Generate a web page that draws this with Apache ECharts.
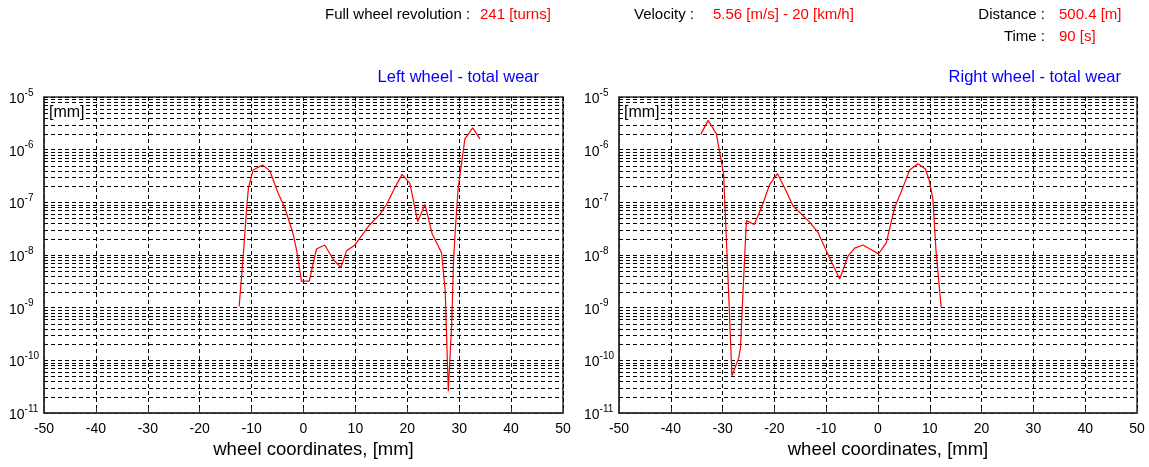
<!DOCTYPE html>
<html>
<head>
<meta charset="utf-8">
<script src="https://cdn.jsdelivr.net/npm/echarts@6/dist/echarts.min.js"></script>
<style>
  html, body { margin: 0; padding: 0; background: #fff; }
  #main { width: 1149px; height: 467px; }
</style>
</head>
<body>
<div id="main"></div>
<script>
// left wheel wear curve
const leftX = [-12.4, -11.6, -10.9, -10.6, -9.7, -7.9, -6.5, -4.9, -3.6, -2.0, -1.3, -0.4, 1.1, 2.5, 4.1, 5.7, 7.2, 8.3, 9.9, 12.8,
  14.7, 16.0, 17.6, 19.0, 20.5, 22.0, 23.4, 24.8, 26.6, 27.3, 27.9, 28.55, 28.9, 29.2, 29.8, 31.1, 32.6, 34.0];
const leftY = [1.05e-9, 1.0e-8, 9.1e-8, 1.9e-7, 4.1e-7, 5.1e-7, 4.0e-7, 1.5e-7, 7.9e-8, 2.5e-8, 1.2e-8, 3.2e-9, 3.2e-9, 1.3e-8, 1.55e-8, 8.3e-9, 5.8e-9, 1.2e-8, 1.55e-8, 3.8e-8,
  5.9e-8, 9.1e-8, 1.9e-7, 3.4e-7, 2.3e-7, 4.3e-8, 9.1e-8, 2.5e-8, 1.1e-8, 2.1e-9, 2.6e-11, 4.9e-10, 7.2e-9, 2.5e-8, 1.9e-7, 1.6e-6, 2.6e-6, 1.6e-6];

// right wheel wear curve
const rightX = [-34.2, -32.8, -31.2, -29.8, -28.75, -28.2, -26.9, -26.55, -26.05, -25.4, -23.9, -22.5, -20.9, -19.4, -17.8, -16.4, -13.2, -11.6,
  -9.7, -7.4, -5.8, -4.5, -2.9, -1.3, 0.1, 1.6, 3.2, 4.8, 6.1, 7.7, 9.15, 9.9, 10.6, 11.2, 12.2];
const rightY = [1.95e-6, 3.6e-6, 2.0e-6, 3.4e-7, 1.2e-9, 5.1e-11, 1.1e-10, 1.7e-10, 2.1e-9, 4.5e-8, 3.8e-8, 7.9e-8, 2.2e-7, 3.5e-7, 1.7e-7, 8.5e-8, 4.2e-8, 2.7e-8,
  1.05e-8, 3.5e-9, 9.5e-9, 1.35e-8, 1.55e-8, 1.26e-8, 1.05e-8, 1.7e-8, 7.9e-8, 1.9e-7, 4.1e-7, 5.4e-7, 4.3e-7, 2.6e-7, 1.15e-7, 1.2e-8, 1.0e-9];

const xTicks = [-50, 50];
const decades = [-11, -10, -9, -8, -7, -6];
const mantissas = [2, 3, 4, 5, 6, 7, 8, 9];

const FONT = 'Liberation Sans, Arial, sans-serif';
const dash = [4, 3];

// minor log grid values (2..9 of each decade)
let minorVals = [];
decades.forEach(d => {
  mantissas.forEach(m => {
    minorVals.push(m * Math.pow(10, d));
  });
});

function pairs(xs, ys) {
  return xs.map((x, i) => [x, ys[i]]);
}

function makeX(idx) {
  return {
    type: 'value', gridIndex: idx, min: xTicks[0], max: xTicks[1], interval: 10,
    name: 'wheel coordinates, [mm]', nameLocation: 'middle', nameGap: 26,
    nameTextStyle: { fontFamily: FONT, fontSize: 18.5, color: '#000', padding: [0, 0, 0, 20] },
    axisLine: { show: true, onZero: false, lineStyle: { color: '#333', width: 1.5 } },
    axisTick: { show: true, inside: true, length: 5, lineStyle: { color: '#333' } },
    axisLabel: { fontFamily: FONT, fontSize: 14, color: '#000', margin: 9 },
    splitLine: { show: true, lineStyle: { color: '#000', type: dash, width: 1 } }
  };
}

function makeY(idx) {
  return {
    type: 'log', logBase: 10, gridIndex: idx, min: 1e-11, max: 1e-5,
    axisLine: { show: true, onZero: false, lineStyle: { color: '#333', width: 1.5 } },
    axisTick: { show: false },
    axisLabel: {
      margin: 35, align: 'left',
      formatter: v => '{b|10}{e|' + Math.round(Math.log10(v)) + '}',
      rich: {
        b: { fontFamily: FONT, fontSize: 14, color: '#000', verticalAlign: 'bottom' },
        e: { fontFamily: FONT, fontSize: 10, color: '#000', verticalAlign: 'bottom', padding: [0, 0, 8, 0] }
      }
    },
    splitLine: { show: true, lineStyle: { color: '#000', type: dash, width: 1 } }
  };
}

// full-width dashed lines at the minor log values
function gridSeries(idx) {
  return {
    type: 'custom', xAxisIndex: idx, yAxisIndex: idx, silent: true, z: 1,
    data: minorVals.map(v => [0, v]),
    encode: { x: 0, y: 1 },
    renderItem: (params, api) => {
      const cs = params.coordSys;
      const y = Math.round(api.coord([0, api.value(1)])[1]) + 0.5;
      return {
        type: 'line',
        shape: { x1: cs.x, y1: y, x2: cs.x + cs.width, y2: y },
        style: { stroke: '#000', lineWidth: 1, lineDash: dash }
      };
    }
  };
}

function curve(idx, xs, ys) {
  return {
    type: 'line', xAxisIndex: idx, yAxisIndex: idx, data: pairs(xs, ys),
    showSymbol: false, symbol: 'none', z: 5, animation: false,
    lineStyle: { color: '#ff0000', width: 1.2 }
  };
}

function txt(x, y, s, color, align, size) {
  return {
    type: 'text', x: x, y: y, z: 10,
    style: { text: s, fill: color, font: size + 'px ' + FONT, textAlign: align, textVerticalAlign: 'middle' }
  };
}

const chart = echarts.init(document.getElementById('main'));
chart.setOption({
  animation: false,
  backgroundColor: '#fff',
  grid: [
    { left: 44, top: 97, width: 519, bottom: 54, show: true, borderColor: '#333', borderWidth: 1.5 },
    { left: 619, top: 97, width: 518, bottom: 54, show: true, borderColor: '#333', borderWidth: 1.5 }
  ],
  xAxis: [makeX(0), makeX(1)],
  yAxis: [makeY(0), makeY(1)],
  series: [gridSeries(0), gridSeries(1), curve(0, leftX, leftY), curve(1, rightX, rightY)],
  graphic: [
    txt(325, 15, 'Full wheel revolution :', '#000', 'left', 15),
    txt(480, 15, '241 [turns]', '#ff0000', 'left', 15),
    txt(634, 15, 'Velocity :', '#000', 'left', 15),
    txt(713, 15, '5.56 [m/s] - 20 [km/h]', '#ff0000', 'left', 15),
    txt(1045, 15, 'Distance :', '#000', 'right', 15),
    txt(1059, 15, '500.4 [m]', '#ff0000', 'left', 15),
    txt(1045, 37, 'Time :', '#000', 'right', 15),
    txt(1059, 37, '90 [s]', '#ff0000', 'left', 15),
    txt(539, 77, 'Left wheel - total wear', '#0000ff', 'right', 16.5),
    txt(1121, 77, 'Right wheel - total wear', '#0000ff', 'right', 16.5),
    { type: 'text', x: 48, y: 113, z: 10, style: { text: '[mm]', fill: '#000', font: '16px ' + FONT, textVerticalAlign: 'middle', backgroundColor: '#fff', padding: [0, 1, 0, 1] } },
    { type: 'text', x: 623, y: 113, z: 10, style: { text: '[mm]', fill: '#000', font: '16px ' + FONT, textVerticalAlign: 'middle', backgroundColor: '#fff', padding: [0, 1, 0, 1] } }
  ]
});
</script>
</body>
</html>
